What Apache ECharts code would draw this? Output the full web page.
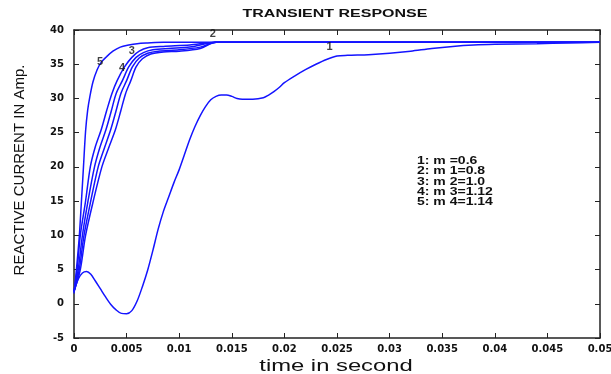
<!DOCTYPE html>
<html>
<head>
<meta charset="utf-8">
<script src="https://cdn.jsdelivr.net/npm/echarts@6/dist/echarts.min.js"></script>
<style>
  html, body { margin: 0; padding: 0; background: #fff; }
  #chart { width: 611px; height: 374px; }
</style>
</head>
<body>
<div id="chart"></div>
<script>
// values: [time (s), current (A)]
var curve1 = [
  [0, 1.8], [0.0004, 3.6], [0.0008, 4.5], [0.0012, 4.7], [0.0016, 4.3], [0.002, 3.4],
  [0.0025, 2.2], [0.003, 1.0], [0.0035, -0.1], [0.004, -0.9], [0.0045, -1.4], [0.005, -1.45],
  [0.0055, -1.0], [0.006, 0.4], [0.0065, 2.5], [0.007, 4.9], [0.0075, 7.8], [0.008, 10.9],
  [0.0085, 13.5], [0.009, 15.6], [0.0095, 17.7], [0.01, 19.6], [0.0105, 21.8], [0.011, 24.0],
  [0.0115, 25.9], [0.012, 27.5], [0.0125, 28.8], [0.013, 29.8], [0.0135, 30.3], [0.014, 30.5],
  [0.0145, 30.5], [0.015, 30.3], [0.0155, 30.0], [0.016, 29.9], [0.017, 29.9], [0.018, 30.1],
  [0.0185, 30.5], [0.019, 31.0], [0.0195, 31.6], [0.02, 32.3], [0.021, 33.3], [0.022, 34.2],
  [0.023, 35.0], [0.024, 35.7], [0.025, 36.2], [0.026, 36.3], [0.028, 36.4], [0.03, 36.6],
  [0.032, 36.9], [0.034, 37.3], [0.036, 37.6], [0.038, 37.8], [0.04, 37.9], [0.044, 38.0],
  [0.047, 38.1], [0.05, 38.2]
];
var curve2 = [
  [0, 1.8], [0.0003, 5], [0.0006, 10], [0.0011, 15], [0.00155, 20], [0.002, 22.8],
  [0.0026, 25.5], [0.0031, 28.2], [0.0036, 30.7], [0.0041, 32.6], [0.0048, 34.6], [0.0055, 36.0],
  [0.0062, 36.9], [0.007, 37.4], [0.0085, 37.6], [0.011, 37.8], [0.0135, 38.2], [0.05, 38.2]
];
var curve3 = [
  [0, 1.8], [0.0004, 5], [0.0008, 10], [0.00133, 15], [0.00195, 20], [0.00245, 22.8],
  [0.00305, 25.5], [0.00355, 28.2], [0.004, 30.7], [0.0046, 32.6], [0.0052, 34.6], [0.0059, 36.0],
  [0.0066, 36.7], [0.0075, 37.1], [0.009, 37.3], [0.011, 37.5], [0.0135, 38.2], [0.05, 38.2]
];
var curve4 = [
  [0, 1.8], [0.0005, 5], [0.00095, 10], [0.00159, 15], [0.0023, 20], [0.0029, 22.8],
  [0.0035, 25.5], [0.004, 28.2], [0.00445, 30.7], [0.005, 32.6], [0.00555, 34.6], [0.0062, 35.9],
  [0.007, 36.6], [0.008, 36.9], [0.01, 37.1], [0.012, 37.5], [0.0135, 38.2], [0.05, 38.2]
];
var curve4b = [
  [0, 1.8], [0.0006, 5], [0.0011, 10], [0.00183, 15], [0.00265, 20], [0.0033, 22.8],
  [0.00395, 25.5], [0.00445, 28.2], [0.0049, 30.7], [0.0054, 32.6], [0.0059, 34.6], [0.0065, 35.8],
  [0.0073, 36.5], [0.0085, 36.8], [0.01, 36.9], [0.012, 37.3], [0.0135, 38.2], [0.05, 38.2]
];
var curve5 = [
  [0, 1.5], [0.0002, 4.5], [0.0005, 9.8], [0.0007, 14.8], [0.0009, 20], [0.0011, 25.2],
  [0.0013, 28.3], [0.0015, 30.2], [0.0018, 32.4], [0.0022, 34.2], [0.0026, 35.3], [0.0031, 36.1],
  [0.0037, 36.9], [0.0044, 37.5], [0.0052, 37.8], [0.006, 38.0], [0.007, 38.1], [0.0085, 38.2],
  [0.05, 38.2]
];
// curve number labels placed in data units
var curveLabels = [
  { name: "1", value: [0.0243, 37.5] },
  { name: "2", value: [0.0132, 39.4] },
  { name: "3", value: [0.0055, 37.0] },
  { name: "4", value: [0.00456, 34.4] },
  { name: "5", value: [0.00247, 35.3] }
];
var legendLines = ["1: m =0.6", "2: m 1=0.8", "3: m 2=1.0", "4: m 3=1.12", "5: m 4=1.14"];
var xTicks = { min: 0, max: 0.05, step: 0.005 };
var yTicks = { min: -5, max: 40, step: 5 };

var chart = echarts.init(document.getElementById("chart"));
var axisColor = "#222";
var blue = "#1414ff";

function lineSeries(name, data) {
  return {
    name: name,
    type: "line",
    data: data,
    smooth: 0.3,
    showSymbol: false,
    lineStyle: { color: blue, width: 1.5 },
    itemStyle: { color: blue },
    animation: false,
    z: 3
  };
}

var legendGraphics = legendLines.map(function (txt, i) {
  return {
    type: "text",
    x: 417,
    y: 156 + i * 10.4,
    scaleX: 1.4,
    style: { text: txt, font: "bold 10px 'Liberation Sans'", fill: "#111" }
  };
});

var option = {
  animation: false,
  backgroundColor: "#fff",
  grid: { left: 74, right: 11, top: 30, bottom: 36, outerBoundsMode: "none", containLabel: false },
  xAxis: [
    {
      type: "value", min: xTicks.min, max: xTicks.max, interval: xTicks.step,
      axisLine: { show: true, onZero: false, lineStyle: { color: axisColor, width: 1.5 } },
      axisTick: { inside: true, length: 5, lineStyle: { color: axisColor } },
      axisLabel: {
        margin: 6, color: "#111", fontFamily: "DejaVu Sans", fontWeight: "bold", fontSize: 10,
        hideOverlap: false,
        formatter: function (v) { return String(+v.toFixed(3)); }
      },
      splitLine: { show: false }
    },
    {
      type: "value", position: "top", min: xTicks.min, max: xTicks.max, interval: xTicks.step,
      axisLine: { show: true, onZero: false, lineStyle: { color: axisColor, width: 1.5 } },
      axisTick: { inside: true, length: 5, lineStyle: { color: axisColor } },
      axisLabel: { show: false },
      splitLine: { show: false }
    }
  ],
  yAxis: [
    {
      type: "value", min: yTicks.min, max: yTicks.max, interval: yTicks.step,
      axisLine: { show: true, onZero: false, lineStyle: { color: axisColor, width: 1.5 } },
      axisTick: { inside: true, length: 5, lineStyle: { color: axisColor } },
      axisLabel: { margin: 10, color: "#111", fontFamily: "DejaVu Sans", fontWeight: "bold", fontSize: 10 },
      splitLine: { show: false }
    },
    {
      type: "value", position: "right", min: yTicks.min, max: yTicks.max, interval: yTicks.step,
      axisLine: { show: true, onZero: false, lineStyle: { color: axisColor, width: 1.5 } },
      axisTick: { inside: true, length: 5, lineStyle: { color: axisColor } },
      axisLabel: { show: false },
      splitLine: { show: false }
    }
  ],
  series: [
    lineSeries("m=0.6", curve1),
    lineSeries("m1=0.8", curve2),
    lineSeries("m2=1.0", curve3),
    lineSeries("m3=1.12", curve4),
    lineSeries("m3b", curve4b),
    lineSeries("m4=1.14", curve5),
    {
      type: "scatter",
      data: curveLabels,
      symbolSize: 0,
      silent: true,
      z: 5,
      label: {
        show: true, position: "inside", formatter: "{b}",
        color: "#111", fontFamily: "Liberation Sans", fontWeight: "bold", fontSize: 11
      }
    }
  ],
  graphic: [
    {
      type: "text", x: 335, y: 14, scaleX: 1.6,
      style: { text: "TRANSIENT RESPONSE", font: "bold 10px 'Liberation Sans'", fill: "#111", align: "center", verticalAlign: "middle" }
    },
    {
      type: "text", x: 336, y: 366, scaleX: 1.4,
      style: { text: "time in second", font: "17px 'Liberation Sans'", fill: "#111", align: "center", verticalAlign: "middle" }
    },
    {
      type: "text", x: 20, y: 170, rotation: Math.PI / 2,
      style: { text: "REACTIVE CURRENT IN Amp.", font: "15px 'Liberation Sans'", fill: "#111", align: "center", verticalAlign: "middle" }
    }
  ].concat(legendGraphics)
};

chart.setOption(option);
</script>
</body>
</html>
